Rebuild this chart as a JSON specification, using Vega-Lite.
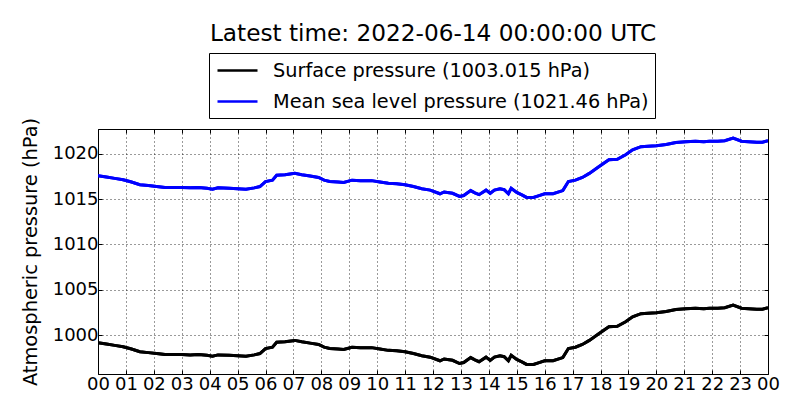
{
  "$schema": "https://vega.github.io/schema/vega-lite/v6.json",
  "autosize": {"type": "none"},
  "width": 670,
  "height": 245,
  "padding": {"left": 98, "top": 129, "right": 32, "bottom": 46},
  "background": "white",
  "title": {
    "text": "Latest time: 2022-06-14 00:00:00 UTC",
    "font": "DejaVu Sans",
    "fontSize": 23.2,
    "fontWeight": "normal",
    "color": "black",
    "anchor": "middle",
    "offset": 6
  },
  "data": {
    "values": [
      {"h": 0.0, "sfc": 999.16, "msl": 1017.6},
      {"h": 0.3, "sfc": 999.01, "msl": 1017.45},
      {"h": 0.6, "sfc": 998.86, "msl": 1017.3},
      {"h": 0.9, "sfc": 998.71, "msl": 1017.15},
      {"h": 1.2, "sfc": 998.46, "msl": 1016.9},
      {"h": 1.5, "sfc": 998.16, "msl": 1016.6},
      {"h": 1.8, "sfc": 998.06, "msl": 1016.5},
      {"h": 2.1, "sfc": 997.96, "msl": 1016.4},
      {"h": 2.4, "sfc": 997.86, "msl": 1016.3},
      {"h": 2.7, "sfc": 997.86, "msl": 1016.3},
      {"h": 3.0, "sfc": 997.86, "msl": 1016.3},
      {"h": 3.3, "sfc": 997.81, "msl": 1016.25},
      {"h": 3.6, "sfc": 997.86, "msl": 1016.3},
      {"h": 3.9, "sfc": 997.76, "msl": 1016.2},
      {"h": 4.1, "sfc": 997.66, "msl": 1016.1},
      {"h": 4.3, "sfc": 997.81, "msl": 1016.25},
      {"h": 4.7, "sfc": 997.76, "msl": 1016.2},
      {"h": 5.0, "sfc": 997.71, "msl": 1016.15},
      {"h": 5.3, "sfc": 997.66, "msl": 1016.1},
      {"h": 5.6, "sfc": 997.81, "msl": 1016.25},
      {"h": 5.8, "sfc": 997.96, "msl": 1016.4},
      {"h": 6.0, "sfc": 998.51, "msl": 1016.95},
      {"h": 6.25, "sfc": 998.66, "msl": 1017.1},
      {"h": 6.4, "sfc": 999.21, "msl": 1017.65},
      {"h": 6.7, "sfc": 999.26, "msl": 1017.7},
      {"h": 7.05, "sfc": 999.41, "msl": 1017.85},
      {"h": 7.3, "sfc": 999.26, "msl": 1017.7},
      {"h": 7.6, "sfc": 999.11, "msl": 1017.55},
      {"h": 7.9, "sfc": 998.96, "msl": 1017.4},
      {"h": 8.1, "sfc": 998.66, "msl": 1017.1},
      {"h": 8.3, "sfc": 998.51, "msl": 1016.95},
      {"h": 8.6, "sfc": 998.46, "msl": 1016.9},
      {"h": 8.8, "sfc": 998.41, "msl": 1016.85},
      {"h": 9.1, "sfc": 998.66, "msl": 1017.1},
      {"h": 9.4, "sfc": 998.61, "msl": 1017.05},
      {"h": 9.8, "sfc": 998.61, "msl": 1017.05},
      {"h": 10.1, "sfc": 998.46, "msl": 1016.9},
      {"h": 10.4, "sfc": 998.31, "msl": 1016.75},
      {"h": 10.7, "sfc": 998.26, "msl": 1016.7},
      {"h": 11.0, "sfc": 998.16, "msl": 1016.6},
      {"h": 11.3, "sfc": 997.96, "msl": 1016.4},
      {"h": 11.6, "sfc": 997.71, "msl": 1016.15},
      {"h": 11.9, "sfc": 997.56, "msl": 1016.0},
      {"h": 12.25, "sfc": 997.16, "msl": 1015.6},
      {"h": 12.4, "sfc": 997.36, "msl": 1015.8},
      {"h": 12.7, "sfc": 997.21, "msl": 1015.65},
      {"h": 12.95, "sfc": 996.86, "msl": 1015.3},
      {"h": 13.1, "sfc": 996.96, "msl": 1015.4},
      {"h": 13.35, "sfc": 997.51, "msl": 1015.95},
      {"h": 13.5, "sfc": 997.26, "msl": 1015.7},
      {"h": 13.65, "sfc": 997.06, "msl": 1015.5},
      {"h": 13.9, "sfc": 997.56, "msl": 1016.0},
      {"h": 14.05, "sfc": 997.21, "msl": 1015.65},
      {"h": 14.2, "sfc": 997.56, "msl": 1016.0},
      {"h": 14.4, "sfc": 997.71, "msl": 1016.15},
      {"h": 14.55, "sfc": 997.61, "msl": 1016.05},
      {"h": 14.7, "sfc": 997.16, "msl": 1015.6},
      {"h": 14.8, "sfc": 997.76, "msl": 1016.2},
      {"h": 15.0, "sfc": 997.31, "msl": 1015.75},
      {"h": 15.2, "sfc": 997.01, "msl": 1015.45},
      {"h": 15.35, "sfc": 996.76, "msl": 1015.2},
      {"h": 15.6, "sfc": 996.76, "msl": 1015.2},
      {"h": 15.8, "sfc": 996.96, "msl": 1015.4},
      {"h": 16.0, "sfc": 997.16, "msl": 1015.6},
      {"h": 16.3, "sfc": 997.16, "msl": 1015.6},
      {"h": 16.65, "sfc": 997.51, "msl": 1015.95},
      {"h": 16.85, "sfc": 998.51, "msl": 1016.95},
      {"h": 17.1, "sfc": 998.66, "msl": 1017.1},
      {"h": 17.35, "sfc": 998.96, "msl": 1017.4},
      {"h": 17.6, "sfc": 999.41, "msl": 1017.85},
      {"h": 17.95, "sfc": 1000.16, "msl": 1018.6},
      {"h": 18.3, "sfc": 1000.91, "msl": 1019.35},
      {"h": 18.6, "sfc": 1000.96, "msl": 1019.4},
      {"h": 18.9, "sfc": 1001.46, "msl": 1019.9},
      {"h": 19.15, "sfc": 1002.01, "msl": 1020.45},
      {"h": 19.45, "sfc": 1002.36, "msl": 1020.8},
      {"h": 19.7, "sfc": 1002.41, "msl": 1020.85},
      {"h": 20.0, "sfc": 1002.46, "msl": 1020.9},
      {"h": 20.35, "sfc": 1002.61, "msl": 1021.05},
      {"h": 20.7, "sfc": 1002.81, "msl": 1021.25},
      {"h": 21.05, "sfc": 1002.91, "msl": 1021.35},
      {"h": 21.4, "sfc": 1002.96, "msl": 1021.4},
      {"h": 21.7, "sfc": 1002.91, "msl": 1021.35},
      {"h": 21.9, "sfc": 1002.96, "msl": 1021.4},
      {"h": 22.2, "sfc": 1002.96, "msl": 1021.4},
      {"h": 22.45, "sfc": 1003.01, "msl": 1021.45},
      {"h": 22.75, "sfc": 1003.31, "msl": 1021.75},
      {"h": 23.05, "sfc": 1002.96, "msl": 1021.4},
      {"h": 23.3, "sfc": 1002.91, "msl": 1021.35},
      {"h": 23.6, "sfc": 1002.86, "msl": 1021.3},
      {"h": 23.8, "sfc": 1002.86, "msl": 1021.3},
      {"h": 24.0, "sfc": 1003.015, "msl": 1021.46}
    ]
  },
  "transform": [{"fold": ["sfc", "msl"], "as": ["series", "p"]}],
  "layer": [
    {
      "mark": {"type": "line", "strokeWidth": 3, "clip": true},
      "encoding": {
        "x": {
          "field": "h", "type": "quantitative",
          "scale": {"domain": [0, 24], "nice": false, "zero": false},
          "axis": {
            "orient": "bottom",
            "values": [0,1,2,3,4,5,6,7,8,9,10,11,12,13,14,15,16,17,18,19,20,21,22,23,24],
            "labelExpr": "(datum.value % 24 < 10 ? '0' : '') + (datum.value % 24)",
            "labelOverlap": false,
            "labelFlush": false,
            "title": null,
            "grid": true,
            "labelPadding": 5
          }
        },
        "y": {
          "field": "p", "type": "quantitative",
          "scale": {"domain": [995.7, 1022.75], "nice": false, "zero": false},
          "axis": {
            "orient": "left",
            "values": [1000, 1005, 1010, 1015, 1020],
            "format": "d",
            "labelOverlap": false,
            "labelFlush": false,
            "title": "Atmospheric pressure (hPa)",
            "titleFontSize": 19.4,
            "grid": true,
            "labelPadding": 4,
            "titlePadding": 12
          }
        },
        "color": {
          "field": "series", "type": "nominal",
          "scale": {"domain": ["sfc", "msl"], "range": ["black", "blue"]},
          "legend": {
            "orient": "none",
            "legendX": 111,
            "legendY": -76,
            "title": null,
            "labelExpr": "datum.label == 'sfc' ? 'Surface pressure (1003.015 hPa)' : 'Mean sea level pressure (1021.46 hPa)'",
            "symbolType": "M-0.9,0H3.1",
            "symbolSize": 400,
            "symbolStrokeWidth": 2.5,
            "symbolFillColor": "transparent",
            "labelFontSize": 19.3,
            "labelFont": "DejaVu Sans",
            "labelColor": "black",
            "labelLimit": 600,
            "labelOffset": 35,
            "rowPadding": 9,
            "padding": 6,
            "strokeColor": "black",
            "fillColor": "white",
            "cornerRadius": 0
          }
        }
      }
    },
    {
      "mark": {"type": "line", "strokeWidth": 3, "clip": true},
      "encoding": {
        "x": {
          "field": "h", "type": "quantitative",
          "axis": {
            "orient": "top",
            "values": [0,1,2,3,4,5,6,7,8,9,10,11,12,13,14,15,16,17,18,19,20,21,22,23,24],
            "labels": false, "title": null, "grid": false, "domain": false
          }
        },
        "y": {
          "field": "p", "type": "quantitative",
          "axis": {
            "orient": "right",
            "values": [1000, 1005, 1010, 1015, 1020],
            "labels": false, "title": null, "grid": false, "domain": false
          }
        },
        "color": {"field": "series", "type": "nominal"}
      }
    }
  ],
  "resolve": {"axis": {"x": "independent", "y": "independent"}},
  "config": {
    "font": "DejaVu Sans",
    "view": {"stroke": "black", "strokeWidth": 1},
    "axis": {
      "domain": false,
      "tickSize": -4,
      "tickColor": "black",
      "tickWidth": 1,
      "labelFont": "DejaVu Sans",
      "labelFontSize": 18,
      "labelColor": "black",
      "titleFont": "DejaVu Sans",
      "titleFontSize": 18,
      "titleFontWeight": "normal",
      "titleColor": "black",
      "gridColor": "black",
      "gridOpacity": 1,
      "gridWidth": 0.8,
      "gridDash": [1, 3]
    }
  }
}
